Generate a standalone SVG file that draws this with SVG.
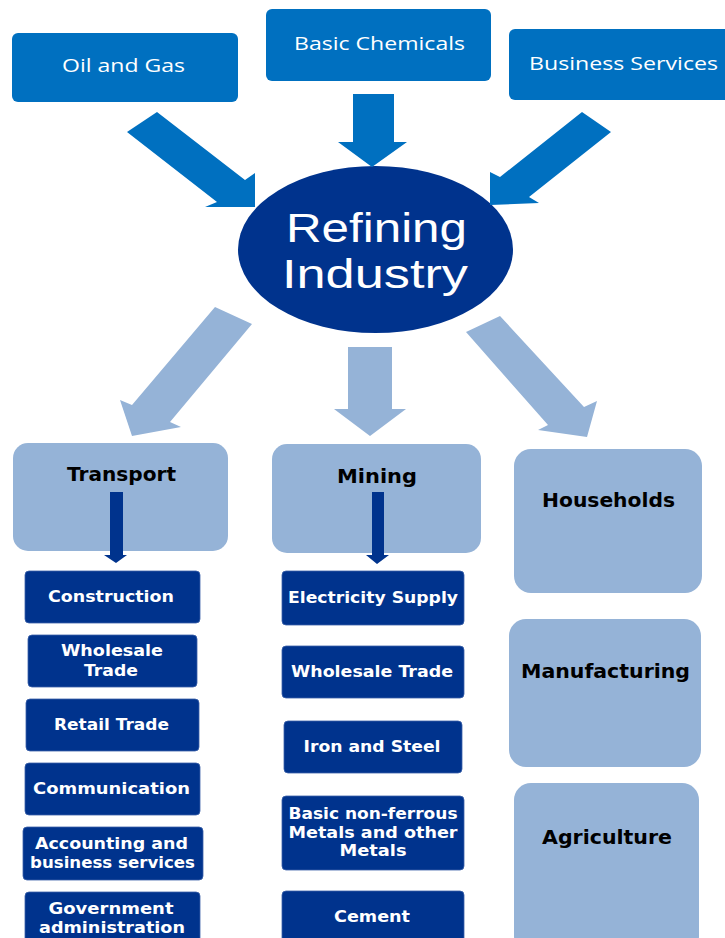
<svg xmlns="http://www.w3.org/2000/svg" width="725" height="938" viewBox="0 0 725 938">
  <style>
    .src { fill: #0070C0; }
    .hub { fill: #00338D; }
    .sector { fill: #95B3D7; }
    .sub { fill: #00338D; stroke: #3A5FA8; stroke-width: 0.8; }
    .in-arrow { fill: #0070C0; }
    .out-arrow { fill: #95B3D7; }
    .sub-arrow { fill: #00338D; }
    .t-src { font-family: "Open Sans", "Liberation Sans", sans-serif; font-size: 19px; fill: #FFFFFF; text-anchor: middle; }
    .t-hub { font-family: "Liberation Sans", "Open Sans", sans-serif; font-size: 41px; fill: #FFFFFF; text-anchor: middle; }
    .t-sector { font-family: "DejaVu Sans", "Verdana", sans-serif; font-weight: bold; font-size: 19px; fill: #000000; text-anchor: middle; }
    .t-sub { font-family: "DejaVu Sans", "Verdana", sans-serif; font-weight: bold; font-size: 16px; fill: #FFFFFF; text-anchor: middle; }
  </style>

  <!-- supplier boxes -->
  <g id="oil-gas">
    <rect class="src" x="12" y="33" width="226" height="69" rx="6"/>
    <text class="t-src" x="123.5" y="72" textLength="123" lengthAdjust="spacingAndGlyphs">Oil and Gas</text>
  </g>
  <g id="basic-chemicals">
    <rect class="src" x="266" y="9" width="225" height="72" rx="6"/>
    <text class="t-src" x="379.5" y="50" textLength="171" lengthAdjust="spacingAndGlyphs">Basic Chemicals</text>
  </g>
  <g id="business-services">
    <rect class="src" x="509" y="29" width="230" height="71" rx="6"/>
    <text class="t-src" x="623.5" y="70" textLength="189" lengthAdjust="spacingAndGlyphs">Business Services</text>
  </g>

  <!-- central industry -->
  <g id="refining-industry">
    <ellipse class="hub" cx="375.5" cy="249.5" rx="137.5" ry="83.5"/>
    <text class="t-hub" x="376.5" y="242" textLength="181" lengthAdjust="spacingAndGlyphs">Refining</text>
    <text class="t-hub" x="375" y="288" textLength="186" lengthAdjust="spacingAndGlyphs">Industry</text>
  </g>

  <!-- user sectors -->
  <g id="transport">
    <rect class="sector" x="13" y="443" width="215" height="108" rx="15"/>
    <text class="t-sector" x="121.5" y="481" textLength="109" lengthAdjust="spacingAndGlyphs">Transport</text>
  </g>
  <g id="mining">
    <rect class="sector" x="272" y="444" width="209" height="109" rx="15"/>
    <text class="t-sector" x="377" y="483" textLength="80" lengthAdjust="spacingAndGlyphs">Mining</text>
  </g>
  <g id="households">
    <rect class="sector" x="514" y="449" width="188" height="144" rx="17"/>
    <text class="t-sector" x="608.5" y="507" textLength="133" lengthAdjust="spacingAndGlyphs">Households</text>
  </g>
  <g id="manufacturing">
    <rect class="sector" x="509" y="619" width="192" height="148" rx="17"/>
    <text class="t-sector" x="605.5" y="678" textLength="169" lengthAdjust="spacingAndGlyphs">Manufacturing</text>
  </g>
  <g id="agriculture">
    <rect class="sector" x="514" y="783" width="185" height="170" rx="17"/>
    <text class="t-sector" x="607" y="844" textLength="130" lengthAdjust="spacingAndGlyphs">Agriculture</text>
  </g>

  <!-- transport sub-sectors -->
  <g id="construction">
    <rect class="sub" x="25" y="571" width="175" height="52" rx="4"/>
    <text class="t-sub" x="111" y="602" textLength="126" lengthAdjust="spacingAndGlyphs">Construction</text>
  </g>
  <g id="wholesale-trade-t">
    <rect class="sub" x="28" y="635" width="169" height="52" rx="4"/>
    <text class="t-sub" x="112" y="656" textLength="102" lengthAdjust="spacingAndGlyphs">Wholesale</text>
    <text class="t-sub" x="111" y="676" textLength="54" lengthAdjust="spacingAndGlyphs">Trade</text>
  </g>
  <g id="retail-trade">
    <rect class="sub" x="26" y="699" width="173" height="52" rx="4"/>
    <text class="t-sub" x="111.5" y="730" textLength="115" lengthAdjust="spacingAndGlyphs">Retail Trade</text>
  </g>
  <g id="communication">
    <rect class="sub" x="25" y="763" width="175" height="52" rx="4"/>
    <text class="t-sub" x="111.5" y="794" textLength="157" lengthAdjust="spacingAndGlyphs">Communication</text>
  </g>
  <g id="accounting">
    <rect class="sub" x="23" y="827" width="180" height="53" rx="4"/>
    <text class="t-sub" x="111.5" y="849" textLength="153" lengthAdjust="spacingAndGlyphs">Accounting and</text>
    <text class="t-sub" x="112.5" y="868" textLength="165" lengthAdjust="spacingAndGlyphs">business services</text>
  </g>
  <g id="government">
    <rect class="sub" x="25" y="892" width="175" height="60" rx="4"/>
    <text class="t-sub" x="111" y="914" textLength="125" lengthAdjust="spacingAndGlyphs">Government</text>
    <text class="t-sub" x="112" y="933" textLength="146" lengthAdjust="spacingAndGlyphs">administration</text>
  </g>

  <!-- mining sub-sectors -->
  <g id="electricity-supply">
    <rect class="sub" x="282" y="571" width="182" height="54" rx="4"/>
    <text class="t-sub" x="373" y="603" textLength="170" lengthAdjust="spacingAndGlyphs">Electricity Supply</text>
  </g>
  <g id="wholesale-trade-m">
    <rect class="sub" x="282" y="646" width="182" height="52" rx="4"/>
    <text class="t-sub" x="372" y="677" textLength="162" lengthAdjust="spacingAndGlyphs">Wholesale Trade</text>
  </g>
  <g id="iron-steel">
    <rect class="sub" x="284" y="721" width="178" height="52" rx="4"/>
    <text class="t-sub" x="372" y="752" textLength="137" lengthAdjust="spacingAndGlyphs">Iron and Steel</text>
  </g>
  <g id="non-ferrous">
    <rect class="sub" x="282" y="796" width="182" height="74" rx="4"/>
    <text class="t-sub" x="373" y="819" textLength="169" lengthAdjust="spacingAndGlyphs">Basic non-ferrous</text>
    <text class="t-sub" x="373" y="838" textLength="169" lengthAdjust="spacingAndGlyphs">Metals and other</text>
    <text class="t-sub" x="373" y="856" textLength="67" lengthAdjust="spacingAndGlyphs">Metals</text>
  </g>
  <g id="cement">
    <rect class="sub" x="282" y="891" width="182" height="60" rx="4"/>
    <text class="t-sub" x="372" y="922" textLength="76" lengthAdjust="spacingAndGlyphs">Cement</text>
  </g>

  <!-- connectors -->
  <g id="connectors">
    <!-- inputs into the refinery -->
    <polygon class="in-arrow" points="157,112 245,180 255,173 255,207 205,207 217,202 127,132"/>
    <polygon class="in-arrow" points="353,94 394,94 394,142 407,142 372,167 338,142 353,142"/>
    <polygon class="in-arrow" points="582,112 611,132 529,197 539,203 490,205 490,172 500,177"/>
    <!-- outputs to user sectors -->
    <polygon class="out-arrow" points="215,307 252,324 170,422 181,427 132,436 120,400 132,405"/>
    <polygon class="out-arrow" points="348,347 392,347 392,409 406,409 370,436 334,409 348,409"/>
    <polygon class="out-arrow" points="500,316 584,407 597,401 587,437 538,430 548,425 466,332"/>
    <!-- sector to sub-sector lists -->
    <polygon class="sub-arrow" points="110,492 123,492 123,555 127,555 116,563 104,555 110,555"/>
    <polygon class="sub-arrow" points="372,492 384,492 384,555 389,555 377,564 366,555 372,555"/>
  </g>
</svg>
